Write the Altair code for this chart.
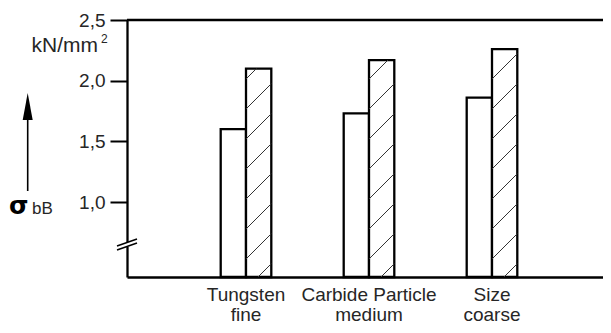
import altair as alt
import pandas as pd

# ---- data ----
sizes = ["fine", "medium", "coarse"]
top_words = ["Tungsten", "Carbide Particle", "Size"]
plain_vals = [1.60, 1.73, 1.86]
hatched_vals = [2.10, 2.17, 2.26]
series = ["plain", "hatched"]
y_ticks = [1.0, 1.5, 2.0, 2.5]
y_min, y_max = 0.382, 2.5

# ---- layout / style ----
W, H = 476, 257
FONT = "Liberation Sans"
INK = "#262626"
STEP = 123.0            # px between group centres
BARW = 25.3             # px width of a single bar
FIRST_C = 119.0         # px of first group centre
n = len(sizes)
PAD_IN = 1 - 2 * BARW / STEP
bandw = 2 * BARW
outer_total = W - ((n - 1) * STEP + bandw)
PAD_OUT = outer_total / 2 / STEP
ALIGN = (FIRST_C - bandw / 2) / outer_total
wq = BARW / STEP                      # bar width in index units
ppu = H / (y_max - y_min)             # pixels per value unit
hatch_s = 30 / ppu                    # hatch spacing
hatch_r = BARW / ppu                  # 45 degree rise across the bar
hatch_y0 = y_min - 12 / ppu
idx_lo = -FIRST_C / STEP
idx_hi = idx_lo + W / STEP

bars_df = pd.DataFrame({
    "size": sizes * 2,
    "series": ["plain"] * n + ["hatched"] * n,
    "value": plain_vals + hatched_vals,
})
labels_df = pd.DataFrame({"size": sizes, "top": top_words})
hatch_df = pd.DataFrame(
    [{"i": i, "value": v, "k": k} for i, v in enumerate(hatched_vals) for k in range(12)]
)
one = pd.DataFrame({"a": [0]})

x_scale = alt.Scale(type="band", domain=sizes, paddingInner=PAD_IN,
                    paddingOuter=PAD_OUT, align=ALIGN)
xo_scale = alt.Scale(domain=series, paddingInner=0, paddingOuter=0)
y_scale = alt.Scale(domain=[y_min, y_max], zero=False, nice=False)

y_axis = alt.Axis(
    values=y_ticks,
    labelExpr="replace(format(datum.value, '.1f'), '.', ',')",
    grid=False, tickSize=17, tickWidth=2, tickColor="black",
    domainColor="black", domainWidth=2.3,
    labelFont=FONT, labelFontSize=19, labelColor=INK, labelPadding=5,
    title=None,
)

bars = alt.Chart(bars_df).mark_bar(
    fill="white", stroke="black", strokeWidth=2.3
).encode(
    x=alt.X("size:N", scale=x_scale, sort=sizes,
            axis=alt.Axis(labels=False, ticks=False, title=None, grid=False,
                          domainColor="black", domainWidth=2.3)),
    xOffset=alt.XOffset("series:N", scale=xo_scale, sort=series),
    y=alt.Y("value:Q", scale=y_scale, axis=y_axis),
    y2=alt.Y2(datum=y_min),
)

hatch = alt.Chart(hatch_df).transform_calculate(
    yl=f"{hatch_y0} + datum.k * {hatch_s}",
).transform_calculate(
    yr=f"datum.yl + {hatch_r}",
).transform_filter(
    f"datum.yl < datum.value && datum.yr > {y_min}"
).transform_calculate(
    xs=f"datum.i + (datum.yl < {y_min} ? ({y_min} - datum.yl) / {hatch_r} * {wq} : 0)",
    ys=f"max(datum.yl, {y_min})",
    xe=f"datum.i + (datum.yr > datum.value ? (datum.value - datum.yl) / {hatch_r} * {wq} : {wq})",
    ye="min(datum.yr, datum.value)",
).mark_rule(color="#333333", strokeWidth=1).encode(
    x=alt.X("xs:Q", scale=alt.Scale(domain=[idx_lo, idx_hi], nice=False, zero=False),
            axis=None),
    x2="xe:Q",
    y=alt.Y("ys:Q", scale=y_scale),
    y2="ye:Q",
)

top_line = alt.Chart(one).mark_rule(color="black", strokeWidth=2.3).encode(
    y=alt.Y(datum=y_max, scale=y_scale)
)

txt = dict(font=FONT, fontSize=19, color=INK, baseline="alphabetic", align="center")
top_text = alt.Chart(labels_df).mark_text(**txt).encode(
    x=alt.X("size:N", scale=x_scale, sort=sizes, axis=None, bandPosition=0.5),
    y=alt.value(281), text="top:N",
)
size_text = alt.Chart(labels_df).mark_text(**txt).encode(
    x=alt.X("size:N", scale=x_scale, sort=sizes, axis=None, bandPosition=0.5),
    y=alt.value(301), text="size:N",
)

unit = alt.Chart(one).mark_text(font=FONT, fontSize=21, color=INK, align="right",
                                baseline="alphabetic").encode(
    x=alt.value(-29), y=alt.value(31.7), text=alt.value("kN/mm"))
sup = alt.Chart(one).mark_text(font=FONT, fontSize=12, color=INK, align="left",
                               baseline="alphabetic").encode(
    x=alt.value(-26), y=alt.value(23), text=alt.value("2"))
sigma = alt.Chart(one).mark_text(font="DejaVu Sans", fontSize=25, fontWeight="bold",
                                 color="black", align="left", baseline="alphabetic").encode(
    x=alt.value(-118), y=alt.value(194), text=alt.value("σ"))
sub = alt.Chart(one).mark_text(font=FONT, fontSize=17, color=INK, align="left",
                               baseline="alphabetic").encode(
    x=alt.value(-95), y=alt.value(194), text=alt.value("bB"))
arrow_line = alt.Chart(one).mark_rule(color="black", strokeWidth=1.6).encode(
    x=alt.value(-99.3), y=alt.value(171), y2=alt.value(96))
arrow_head = alt.Chart(one).mark_point(
    shape="M0,-1L0.37,1L-0.37,1Z", filled=True, size=729, color="black", opacity=1
).encode(x=alt.value(-99.3), y=alt.value(86.5))

gap = alt.Chart(one).mark_rule(color="white", strokeWidth=5).encode(
    x=alt.value(0), y=alt.value(222), y2=alt.value(227))
slash1 = alt.Chart(one).mark_rule(color="black", strokeWidth=1.5).encode(
    x=alt.value(-10), x2=alt.value(10), y=alt.value(226), y2=alt.value(219))
slash2 = alt.Chart(one).mark_rule(color="black", strokeWidth=1.5).encode(
    x=alt.value(-10), x2=alt.value(10), y=alt.value(230), y2=alt.value(223))

chart = alt.layer(
    bars, hatch, top_line, top_text, size_text, unit, sup, sigma, sub,
    arrow_line, arrow_head, gap, slash1, slash2,
).resolve_scale(x="independent").properties(
    width=W, height=H,
    autosize=alt.AutoSizeParams(type="none"),
    padding={"left": 119, "top": 12, "right": 0, "bottom": 48},
).configure_view(stroke=None)

chart.save("out.html", embed_options={"renderer": "svg", "actions": False})
